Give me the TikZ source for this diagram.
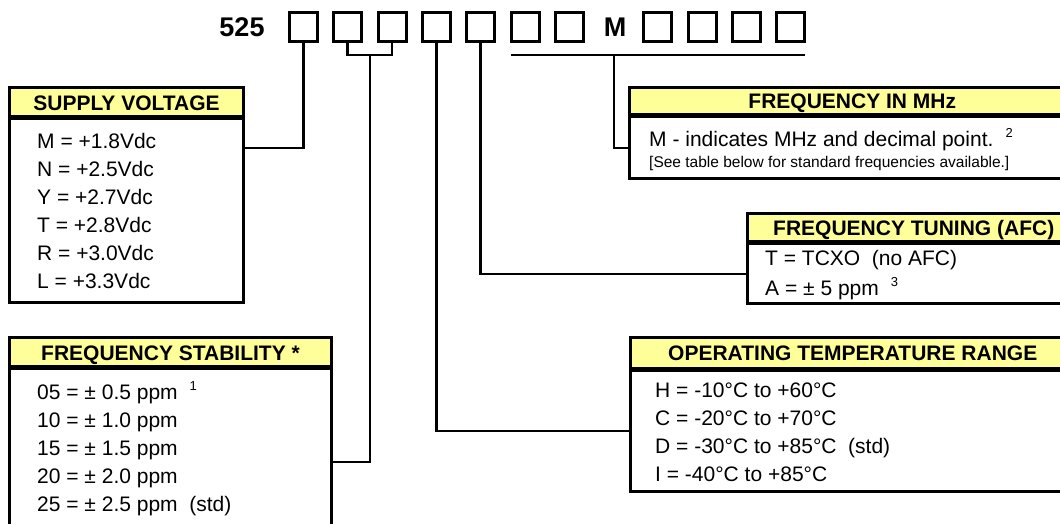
\documentclass[tikz,border=0pt]{standalone}
\usepackage{fontspec}
\setmainfont{Liberation Sans}
\definecolor{headyellow}{HTML}{FFFF99}
\newcommand{\notemark}[1]{\hspace{12pt}\raisebox{9pt}{\fontsize{13}{13}\selectfont #1}}
\newcommand{\panellist}[1]{\begin{tabular}[t]{@{}l@{}}#1\end{tabular}}
\tikzset{
  codebox/.style={draw,line width=3pt,minimum width=28pt,minimum height=29pt,
    inner sep=0pt,outer sep=0pt},
  codetext/.style={inner sep=0pt,text depth=0pt,
    font=\fontsize{27}{27}\selectfont\bfseries},
  panelhead/.style={draw,line width=3pt,fill=headyellow,anchor=north west,
    inner sep=0pt,outer sep=0pt,text height=15pt,text depth=0pt,
    font=\fontsize{21}{21}\selectfont\bfseries},
  panelbody/.style={draw,line width=3pt,fill=white,anchor=north west,
    inner sep=0pt,outer sep=0pt},
  headrule/.style={line width=5pt},
  paneltext/.style={anchor=base west,inner sep=0pt},
  wire/.style={line width=2.7pt}
}

\begin{document}
\begin{tikzpicture}[x=1pt,y=-1pt]
    \useasboundingbox (0,0) rectangle (1060,523);
    \clip (0,0) rectangle (1060,523);
    \node[codetext] (codeHead) at (242,27.5) {525};
    \foreach \k in {1,...,7}
      \node[codebox] (code\k) at ({303.5+44.3*(\k-1)},27) {};
    \node[codetext] (codeM) at (615,27.5) {M};
    \foreach \k in {8,...,11}
      \node[codebox] (code\k) at ({303.5+44.3*\k},27) {};
    % panels
    \node[panelbody,minimum width=234pt,minimum height=185pt] (supplyBody) at (9.5,117.5) {};
    \node[panelhead,minimum width=234pt,minimum height=30pt] (supplyHead) at (9.5,87.5) {SUPPLY VOLTAGE};
    \node[panelbody,minimum width=322pt,minimum height=200pt] (stabBody) at (9.5,367.5) {};
    \node[panelhead,minimum width=322pt,minimum height=30pt] (stabHead) at (9.5,337.5) {FREQUENCY STABILITY *};
    \node[panelbody,minimum width=445.5pt,minimum height=63.5pt] (freqBody) at (629.5,115) {};
    \node[panelhead,minimum width=445.5pt,minimum height=27.5pt] (freqHead) at (629.5,87.5) {FREQUENCY IN MHz};
    \node[panelbody,minimum width=332.5pt,minimum height=61.5pt] (tuneBody) at (747.5,242) {};
    \node[panelhead,minimum width=332.5pt,minimum height=28.5pt] (tuneHead) at (747.5,213.5) {FREQUENCY TUNING (AFC)};
    \node[panelbody,minimum width=444.5pt,minimum height=122.5pt] (tempBody) at (630.5,369) {};
    \node[panelhead,minimum width=444.5pt,minimum height=31.5pt] (tempHead) at (630.5,337.5) {OPERATING TEMPERATURE RANGE};
    \foreach \p in {supplyHead,stabHead,freqHead,tuneHead,tempHead}
      \draw[headrule] (\p.south west) -- (\p.south east);
    % lists
    \node[paneltext,font=\fontsize{21}{28}\selectfont] (supplyList) at (37,148)
      {\panellist{M = +1.8Vdc\\N = +2.5Vdc\\Y = +2.7Vdc\\T = +2.8Vdc\\R = +3.0Vdc\\L = +3.3Vdc}};
    \node[paneltext,font=\fontsize{21}{28}\selectfont] (stabList) at (37,399)
      {\panellist{05 = ± 0.5 ppm\notemark{1}\\10 = ± 1.0 ppm\\15 = ± 1.5 ppm\\20 = ± 2.0 ppm\\25 = ± 2.5 ppm\ \ (std)}};
    \node[paneltext,font=\fontsize{21}{21}\selectfont] (freqList) at (649,146)
      {M - indicates MHz and decimal point.\notemark{2}};
    \node[paneltext,font=\fontsize{15.5}{15.5}\selectfont] (freqNote) at (649,167.5)
      {[See table below for standard frequencies available.]};
    \node[paneltext,font=\fontsize{21}{29.5}\selectfont] (tuneList) at (765,265.5)
      {\panellist{T = TCXO\ \ (no AFC)\\A = ± 5 ppm\notemark{3}}};
    \node[paneltext,font=\fontsize{21}{28}\selectfont] (tempList) at (655,397.5)
      {\panellist{H = -10°C to +60°C\\C = -20°C to +70°C\\D = -30°C to +85°C\ \ (std)\\I = -40°C to +85°C}};
    % connectors
    \coordinate (stabFork) at (370,55);
    \coordinate (freqFork) at (614,55);
    \draw[wire] (code1.south) |- ([yshift=-30.5pt]supplyBody.north east);
    \draw[wire] (code2.south) |- (stabFork) -| (code3.south);
    \draw[wire] (stabFork) |- ([yshift=-94.5pt]stabBody.north east);
    \draw[wire] (code4.south) |- ([yshift=-62pt]tempBody.north west);
    \draw[wire] (code5.south) |- ([yshift=-32pt]tuneBody.north west);
    \draw[wire] ([yshift=-13.5pt]code6.south west) -- ([yshift=-13.5pt]code11.south east);
    \draw[wire] (freqFork) |- ([yshift=-33pt]freqBody.north west);
\end{tikzpicture}
\end{document}
